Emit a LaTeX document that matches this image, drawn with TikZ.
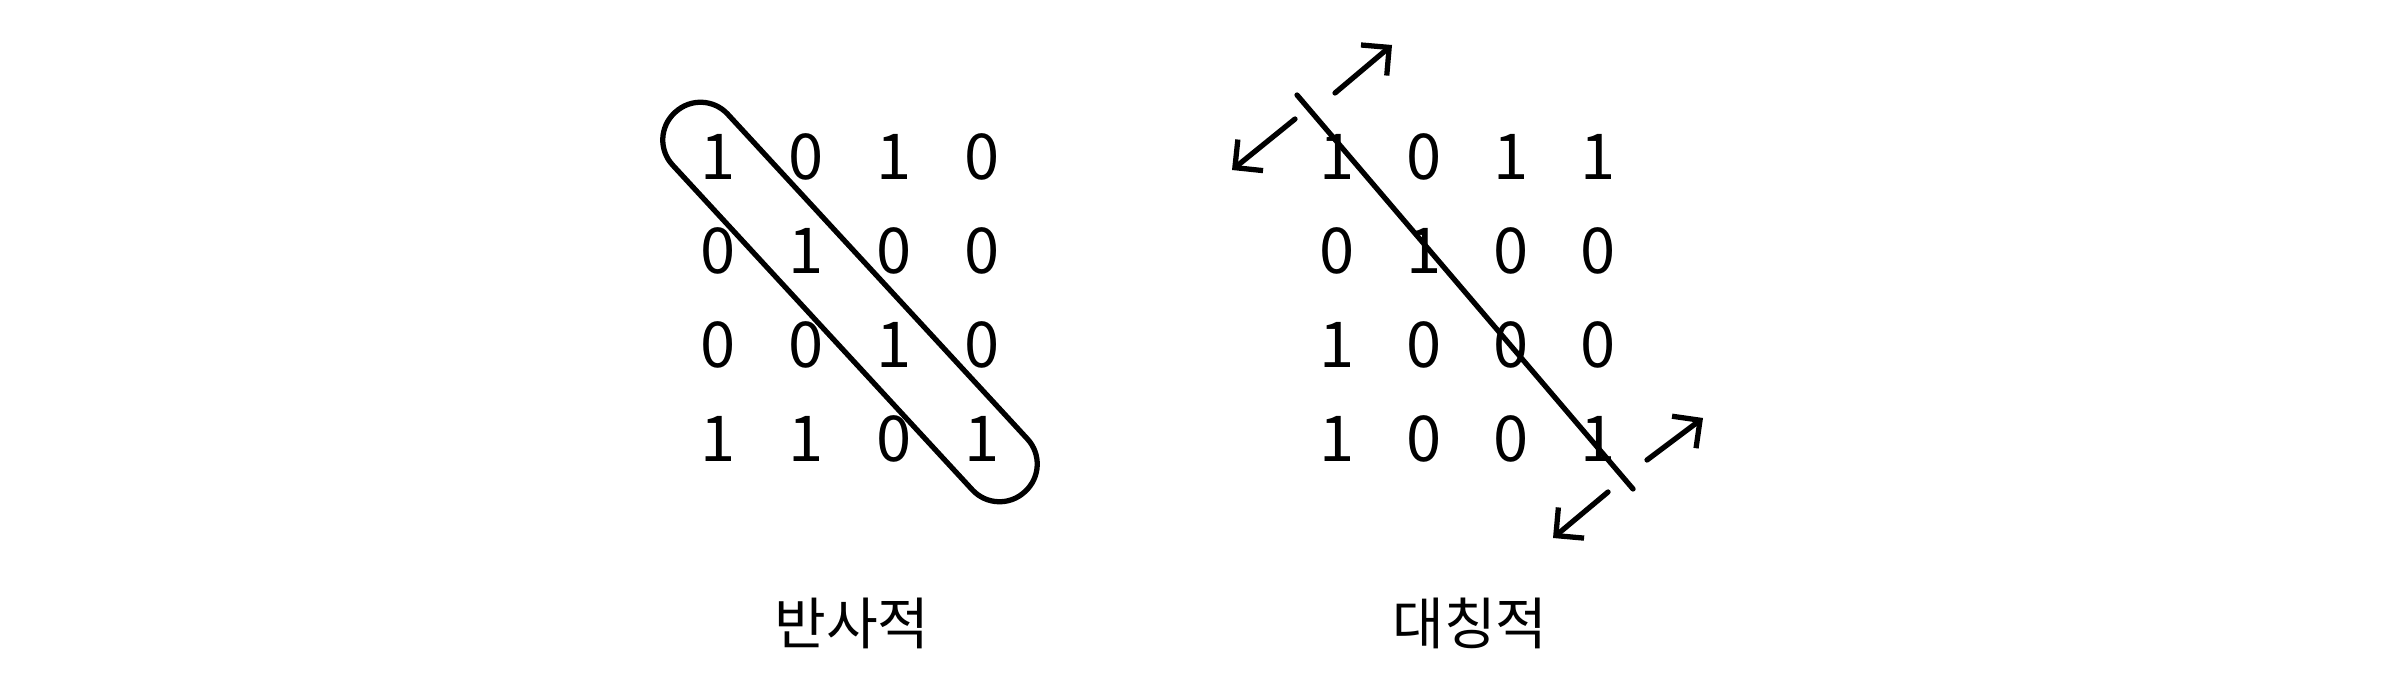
\documentclass[tikz,border=0pt]{standalone}
\usepackage{fontspec}
\setmainfont{Noto Sans CJK KR}
\usetikzlibrary{arrows.meta}
\tikzset{
  bit/.style={font=\fontsize{18}{18}\selectfont, inner sep=0pt},
  caption/.style={font=\fontsize{16}{16}\selectfont, inner sep=0pt},
  flip/.style={-{Straight Barb[length=2mm,width=4mm]}}
}
\begin{document}
\begin{tikzpicture}[line width=1.5pt, line join=round, line cap=round]
\useasboundingbox (0,0) rectangle (24,6.84);
% reflexive matrix
\foreach \row [count=\r] in {{1,0,1,0},{0,1,0,0},{0,0,1,0},{1,1,0,1}}{
	\foreach \v [count=\c] in \row {
		\node[bit] (L\r\c) at (6.30+0.88*\c, 6.21-0.94*\r) {\v};}}
\draw[rounded corners=3.7mm, rotate around={-47.3:(8.50,3.82)}] (5.92,3.445) rectangle (11.08,4.195);
\node[caption] (refl) at (8.52,0.61) {반사적};
% symmetric matrix
\foreach \row [count=\r] in {{1,0,1,1},{0,1,0,0},{1,0,0,0},{1,0,0,1}}{
	\foreach \v [count=\c] in \row {
		\node[bit] (R\r\c) at (12.50+0.87*\c, 6.21-0.94*\r) {\v};}}
\coordinate (axisA) at (12.97,5.89);
\coordinate (axisB) at (16.33,1.95);
\draw (axisA) -- (axisB);
\draw[flip] (13.35,5.91) -- (13.92,6.39);
\draw[flip] (12.95,5.65) -- (12.32,5.14);
\draw[flip] (16.47,2.24) -- (17.03,2.66);
\draw[flip] (16.08,1.92) -- (15.53,1.46);
\node[caption] (symm) at (14.70,0.61) {대칭적};
\end{tikzpicture}
\end{document}
